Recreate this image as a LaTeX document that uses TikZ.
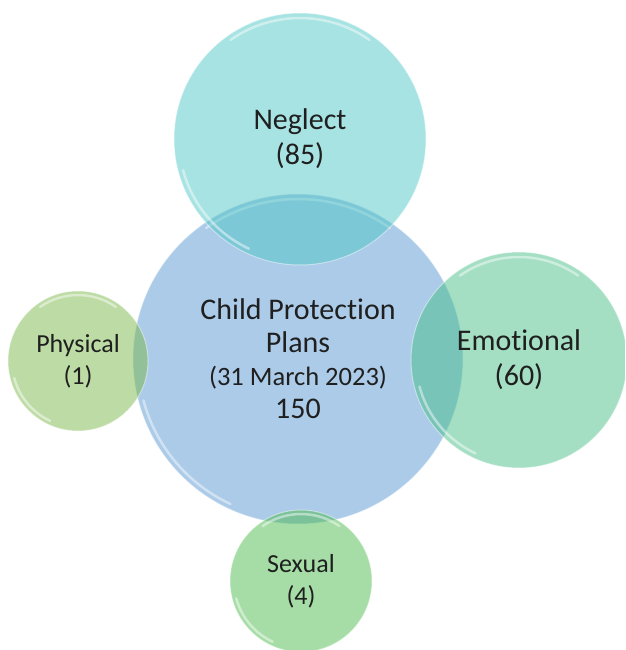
\documentclass[tikz,border=0pt]{standalone}
\usepackage{fontspec}
\setmainfont{Carlito}[Ligatures=NoCommon]
\usetikzlibrary{calc}
\definecolor{cblue}{RGB}{171,203,232}
\definecolor{cneg}{RGB}{81,199,199}
\definecolor{cemo}{RGB}{73,191,137}
\definecolor{cphy}{RGB}{123,183,73}
\definecolor{csex}{RGB}{77,187,77}
\newcommand\shine[2]{%
  \draw[hl] ($(#1.center)+(55:#2)$) arc[start angle=55,end angle=125,radius=#2];
  \draw[hl] ($(#1.center)+(195:#2)$) arc[start angle=195,end angle=245,radius=#2];}
\begin{document}
\begin{tikzpicture}[x=1pt,y=-1pt,
  bubble/.style={circle, inner sep=0pt, align=center, text=black!88, fill opacity=0.5, text opacity=1, draw=white, draw opacity=0.45, line width=1pt},
  big/.style={font=\fontsize{30}{35}\selectfont},
  small/.style={font=\fontsize{26}{32}\selectfont},
  hl/.style={draw=white, opacity=0.45, line width=2.5pt, line cap=round}]
\useasboundingbox (0,0) rectangle (625,650);
\clip (0,0) rectangle (625,650);
\node[bubble, fill=cblue, fill opacity=1, minimum size=330pt, font=\fontsize{30}{33}\selectfont] (cpp) at (298,359) {Child Protection\\Plans\\{\fontsize{26.5}{33}\selectfont (31 March 2023)}\\150};
\shine{cpp}{160pt}
\node[bubble, fill=cneg, minimum size=252pt, big] (neg) at (300,139) {Neglect\\(85)};
\shine{neg}{121pt}
\node[bubble, fill=cemo, minimum size=216pt, big] (emo) at (519,360) {Emotional\\(60)};
\shine{emo}{103pt}
\node[bubble, fill=cphy, minimum size=140pt, small] (phy) at (78,361) {Physical\\(1)};
\shine{phy}{66pt}
\node[bubble, fill=csex, minimum size=142pt, small] (sex) at (301,581) {Sexual\\(4)};
\shine{sex}{67pt}
\end{tikzpicture}
\end{document}
